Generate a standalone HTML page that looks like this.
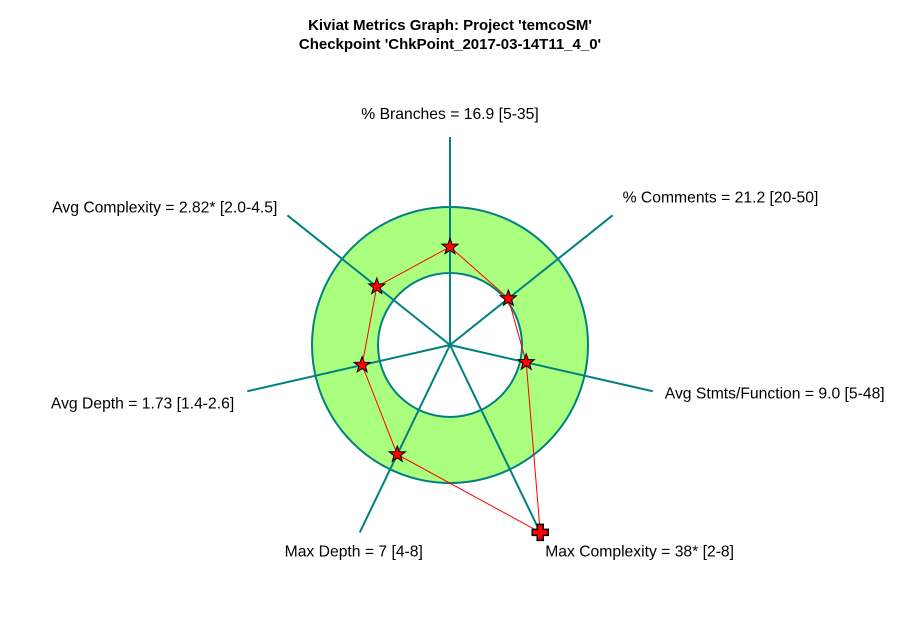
<!DOCTYPE html>
<html><head><meta charset="utf-8"><style>
body{margin:0;background:#fff;width:900px;height:627px;overflow:hidden}
svg{font-family:"Liberation Sans",Arial,sans-serif}
</style></head><body>
<svg id="chart" width="900" height="627">
<rect width="900" height="627" fill="#fff"/>
<text x="450" y="30" text-anchor="middle" font-size="15" font-weight="bold">Kiviat Metrics Graph: Project 'temcoSM'</text>
<text x="450" y="49" text-anchor="middle" font-size="15" font-weight="bold">Checkpoint 'ChkPoint_2017-03-14T11_4_0'</text>
<g id="g"></g>
</svg>
<script>
const metrics=["% Branches","% Comments","Avg Stmts/Function","Max Complexity","Max Depth","Avg Depth","Avg Complexity"];
const valueLabels=["16.9","21.2","9.0","38*","7","1.73","2.82*"];
const values=[16.9,21.2,9.0,38,7,1.73,2.82];
const mins=[5,20,5,2,4,1.4,2.0];
const maxs=[35,50,48,8,8,2.6,4.5];
const rangeLabels=["5-35","20-50","5-48","2-8","4-8","1.4-2.6","2.0-4.5"];
const cx=450,cy=345,rIn=72,rOut=138,rAxis=208;
const NS="http://www.w3.org/2000/svg";
const g=document.getElementById('g');
function mk(t,a){const e=document.createElementNS(NS,t);for(const k in a)e.setAttribute(k,a[k]);g.appendChild(e);return e;}
function ang(i){return (90-i*360/metrics.length)*Math.PI/180;}
function pt(i,r){return [cx+r*Math.cos(ang(i)),cy-r*Math.sin(ang(i))];}
function rad(i){return Math.min(rAxis,Math.max(0,rIn+(values[i]-mins[i])/(maxs[i]-mins[i])*(rOut-rIn)));}
let ring=mk('path',{d:`M${cx-rOut},${cy}a${rOut},${rOut} 0 1,0 ${2*rOut},0a${rOut},${rOut} 0 1,0 ${-2*rOut},0M${cx-rIn},${cy}a${rIn},${rIn} 0 1,0 ${2*rIn},0a${rIn},${rIn} 0 1,0 ${-2*rIn},0`,fill:'#aaff7f','fill-rule':'evenodd',stroke:'#008080','stroke-width':2});


const anchors=["middle","start","start","start","middle","end","end"];
const loff=[[0,-18],[10,-13],[12,7],[5,24],[-6,24],[-13,17],[-10,-3]];
metrics.forEach((m,i)=>{
 const [x,y]=pt(i,rAxis);
 const l=mk('line',{x1:cx,y1:cy,x2:x,y2:y,stroke:'#008080','stroke-width':2});
 
 
 const t=mk('text',{x:x+loff[i][0],y:y+loff[i][1],'text-anchor':anchors[i],'font-size':15.7});
 t.textContent=`${m} = ${valueLabels[i]} [${rangeLabels[i]}]`;
 
 
});
const pts=metrics.map((m,i)=>pt(i,rad(i)));
const poly=mk('polygon',{points:pts.map(p=>p.join(',')).join(' '),fill:'none',stroke:'#ff0000','stroke-width':1});


function star(x,y){let s='';for(let k=0;k<10;k++){const r=k%2?3.5:8.5,a=(90+k*36)*Math.PI/180;s+=(x+r*Math.cos(a))+','+(y-r*Math.sin(a))+' ';}return s;}
pts.forEach((p,i)=>{
 let e;
 if(rad(i)>=rAxis){
  const w=3,h=8;
  e=mk('path',{d:`M${p[0]-w},${p[1]-h}h${2*w}v${h-w}h${h-w}v${2*w}h${w-h}v${h-w}h${-2*w}v${w-h}h${w-h}v${-2*w}h${h-w}z`,fill:'#ff0000',stroke:'#000','stroke-width':1.5});
 } else {
  e=mk('polygon',{points:star(p[0],p[1]),fill:'#ff0000',stroke:'#000','stroke-width':1});
 }
 
 
});
</script>
</body></html>
